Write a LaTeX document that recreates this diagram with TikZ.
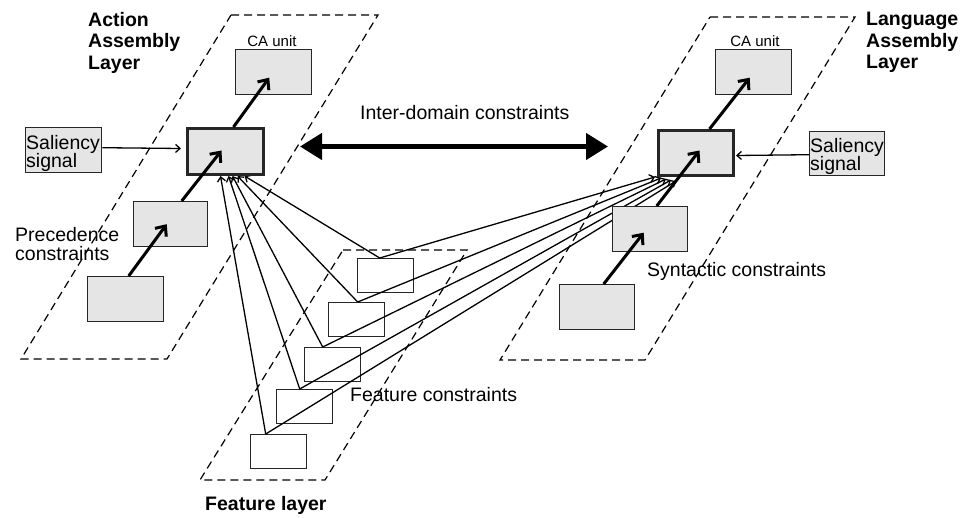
\documentclass[tikz,border=0pt]{standalone}
\usepackage{fontspec}
\setmainfont{Liberation Sans}
\usetikzlibrary{arrows.meta,backgrounds}
\begin{document}
\begin{tikzpicture}[x=1pt,y=-1pt,
  caBox/.style={draw=black!85, line width=1.4pt, fill=black!10, inner sep=0pt,
    anchor=north west, minimum width=75pt, minimum height=45pt},
  coreBox/.style={caBox, line width=3pt},
  featBox/.style={draw=black!85, line width=1.4pt, fill=white, inner sep=0pt,
    anchor=north west, minimum width=56pt, minimum height=34pt},
  layerEdge/.style={dash pattern=on 8pt off 5pt, line width=1.2pt},
  link/.style={line width=1.3pt, -{Straight Barb[length=4.5pt,width=8pt]}},
  flow/.style={line width=3pt, -{Straight Barb[length=8pt,width=14pt]}},
  bigArrow/.style={line width=4.5pt,
    {Triangle[length=22pt,width=26pt]}-{Triangle[length=22pt,width=26pt]}},
  lbl/.style={inner sep=0pt, font=\fontsize{19.5}{22}\selectfont},
  smalllbl/.style={inner sep=0pt, font=\fontsize{15}{17}\selectfont},
  title/.style={inner sep=0pt, align=left, anchor=north west,
    font=\fontsize{19.5}{21.5}\selectfont\bfseries}]
\useasboundingbox (0,0) rectangle (961,517);

% ---- action assembly layer ----
\node[caBox, minimum width=76pt] (lca) at (235,49) {};
\node[coreBox, minimum width=76pt, minimum height=46pt] (lc) at (186,127) {};
\node[caBox, minimum width=76pt] (lsal) at (25,127) {};
\node[caBox, minimum width=74pt] (lmid) at (133,201) {};
\node[caBox, minimum width=76pt] (lbot) at (87,276) {};

% ---- language assembly layer ----
\node[caBox, minimum width=76pt] (rca) at (715,49) {};
\node[coreBox] (rc) at (657,129) {};
\node[caBox, minimum height=44pt] (rsal) at (809,131) {};
\node[caBox] (rmid) at (612,206) {};
\node[caBox] (rbot) at (559,284) {};

\begin{pgfonlayer}{background}
  % dashed layer outlines
  \draw[layerEdge] (231,15) -- (378,15) -- (167,359) -- (21,359) -- cycle;
  \draw[layerEdge] (710,17) -- (855,17) -- (645,360) -- (500,360) -- cycle;
  \draw[layerEdge] (343,250) -- (467,250) -- (325,480) -- (200,480) -- cycle;

  % feature units
  \node[featBox] (f1) at (357,258) {};
  \node[featBox] (f2) at (328,302) {};
  \node[featBox] (f3) at (304,347) {};
  \node[featBox] (f4) at (276,389) {};
  \node[featBox] (f5) at (250,434) {};

  % feature constraints towards both assembly layers
  \draw[link] ([xshift=-6]f1.north) -- ([xshift=19]lc.south);
  \draw[link] ([xshift=1]f2.north) -- ([xshift=12]lc.south);
  \draw[link] ([xshift=-10]f3.north) -- ([xshift=7]lc.south);
  \draw[link] ([xshift=-5]f4.north) -- ([xshift=3]lc.south);
  \draw[link] ([xshift=-13]f5.north) -- ([xshift=-5]lc.south);

  \draw[link] ([xshift=-6]f1.north) -- ([xshift=-2]rc.south west);
  \draw[link] ([xshift=1]f2.north) -- ([xshift=4,yshift=-1]rc.south west);
  \draw[link] ([xshift=-10]f3.north) -- ([xshift=9,yshift=-2]rc.south west);
  \draw[link] ([xshift=-5]f4.north) -- ([xshift=14,yshift=-3]rc.south west);
  \draw[link] ([xshift=-13]f5.north) -- ([xshift=19,yshift=-4]rc.south west);
\end{pgfonlayer}

% sequence (precedence / syntactic) constraints
\draw[flow] ([xshift=3]lbot.north) -- ([xshift=-4]lmid.center);
\draw[flow] ([xshift=11]lmid.north) -- ([xshift=-4,yshift=1]lc.center);
\draw[flow] ([xshift=8]lc.north) -- ([xshift=-4.5,yshift=-5.5]lca.center);

\draw[flow] ([xshift=6.5]rbot.north) -- ([xshift=-6.5,yshift=-3.5]rmid.center);
\draw[flow] ([xshift=6.5]rmid.north) -- ([xshift=3.5,yshift=2.5]rc.center);
\draw[flow] ([xshift=13.5]rc.north) -- ([xshift=-4,yshift=-5.5]rca.center);

% saliency inputs
\draw[link] ([yshift=2.5]lsal.east) -- ([xshift=-5,yshift=3]lc.west);
\draw[link] ([yshift=-1]rsal.west) -- ([xshift=1,yshift=-2.5]rc.east);

% inter-domain constraints
\draw[bigArrow] ([xshift=35,yshift=5]lc.east) -- ([xshift=-49,yshift=6.5]rc.west);

% texts
\node[title] (tAct) at (88,12) {Action\\Assembly\\Layer};
\node[title] (tLang) at (866,12) {Language\\Assembly\\Layer};
\node[title, anchor=base west] (tFeat) at (205,510) {Feature layer};

\node[smalllbl] (caL) at (272,41) {CA unit};
\node[smalllbl] (caR) at (755,41) {CA unit};

\node[lbl, anchor=base west] (tInter) at (360,119) {Inter-domain constraints};
\node[lbl, anchor=north west, align=left, font=\fontsize{19.5}{18.5}\selectfont]
  (tSalL) at (26,135) {Saliency\\signal};
\node[lbl, anchor=north west, align=left, font=\fontsize{19.5}{18.5}\selectfont]
  (tSalR) at (810,138) {Saliency\\signal};
\node[lbl, anchor=north west, align=left, font=\fontsize{19.5}{19.5}\selectfont]
  (tPrec) at (15,227) {Precedence\\constraints};
\node[lbl, anchor=base west] (tSyn) at (647,276) {Syntactic constraints};
\node[lbl, anchor=base west] (tFc) at (350,401) {Feature constraints};
\end{tikzpicture}
\end{document}
